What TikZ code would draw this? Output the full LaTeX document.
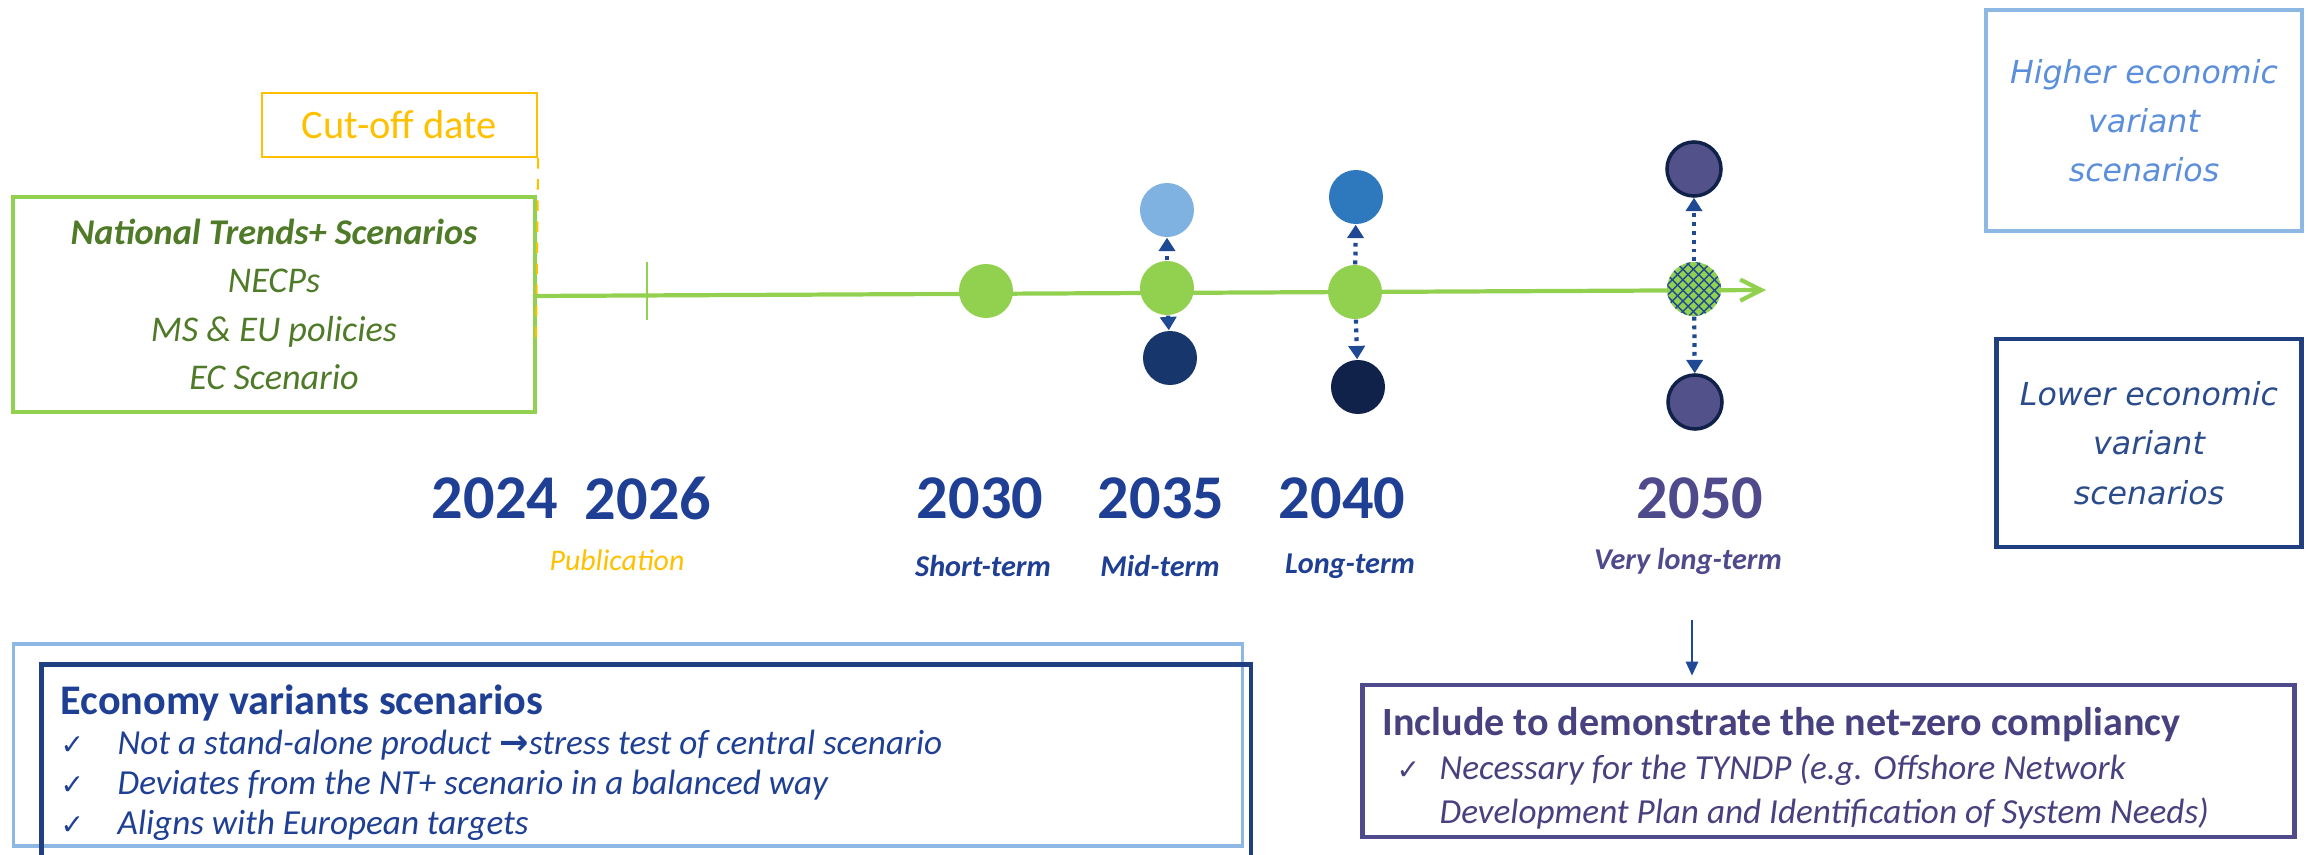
\documentclass[tikz,border=0pt]{standalone}
\usepackage{fontspec}
\setmainfont{Carlito}
\newfontfamily\symfont{DejaVu Sans}
\usetikzlibrary{arrows.meta,patterns,positioning}

\definecolor{tlgreen}{HTML}{92D050}
\definecolor{ntgreen}{HTML}{4F7A28}
\definecolor{cutgold}{HTML}{FFC000}
\definecolor{yearblue}{HTML}{1E3F94}
\definecolor{yearpurple}{HTML}{4F4A8C}
\definecolor{arrowblue}{HTML}{1F4A93}
\definecolor{hiblue}{HTML}{7FB2E0}
\definecolor{hiblueB}{HTML}{2E78BD}
\definecolor{lonavy}{HTML}{17366B}
\definecolor{lonavyB}{HTML}{10214A}
\definecolor{varpurple}{HTML}{52518A}
\definecolor{boxlight}{HTML}{8DB8E3}
\definecolor{hitext}{HTML}{5B8EDB}
\definecolor{boxnavy}{HTML}{203F80}
\definecolor{lotext}{HTML}{2B4C8C}
\definecolor{incpurple}{HTML}{4F4A8C}
\definecolor{inctext}{HTML}{47427F}

\tikzset{
  dot/.style={circle, inner sep=0pt, minimum size=0.54cm},
  year/.style={font=\fontsize{17.7}{20}\selectfont\bfseries, text=yearblue},
  term/.style={font=\fontsize{8.6}{10}\selectfont\bfseries\itshape, text=yearblue},
  legend/.style={align=center, font=\symfont\fontsize{9}{14}\selectfont\itshape},
  vararrow/.style={draw=arrowblue, line width=1.2pt, dash pattern=on 1.1pt off 1.4pt,
    -{Triangle[length=3.8pt,width=4.6pt]}},
}

\begin{document}
\begin{tikzpicture}[x=0.01cm,y=-0.01cm]
\useasboundingbox (0,0) rectangle (2308,855);

% cut-off and national trends
\node[draw=cutgold, line width=0.6pt, minimum width=2.75cm, minimum height=0.64cm,
      text=cutgold, font=\fontsize{11.5}{13}\selectfont] (cut) at (399.5,125) {Cut-off date};
\node[draw=tlgreen, line width=1.1pt, minimum width=5.22cm, minimum height=2.15cm,
      text=ntgreen, align=center, font=\fontsize{10.3}{13.7}\selectfont\itshape] (nt) at (274,304.5)
      {\textbf{National Trends+ Scenarios}\\NECPs\\MS \& EU policies\\EC Scenario};
\coordinate (cutend) at (536,345);
\draw[cutgold, line width=0.6pt, dashed] (cut.south east) -- (cutend);

% timeline
\coordinate (tl0) at (533,296);
\coordinate (tl1) at (1766,290);
\draw[tlgreen, line width=1.2pt, -{Straight Barb[length=6pt,width=6pt]}] (tl0) -- (tl1);
\coordinate (tk0) at (647,262);
\coordinate (tk1) at (647,320);
\draw[tlgreen, line width=0.6pt] (tk0) -- (tk1);

% scenario dots
\node[dot, fill=tlgreen] (c30) at (986,291) {};
\node[dot, fill=tlgreen] (c35) at (1167,288) {};
\node[dot, fill=hiblue] (c35h) at (1167,210) {};
\node[dot, fill=lonavy] (c35l) at (1170,358) {};
\node[dot, fill=tlgreen] (c40) at (1355,292) {};
\node[dot, fill=hiblueB] (c40h) at (1356,197) {};
\node[dot, fill=lonavyB] (c40l) at (1358,387) {};
\node[dot, preaction={fill=tlgreen}, pattern=crosshatch, pattern color=arrowblue] (c50) at (1694,289) {};
\node[dot, fill=varpurple, draw=lonavyB, line width=1pt] (c50h) at (1694,169) {};
\node[dot, fill=varpurple, draw=lonavyB, line width=1pt] (c50l) at (1695,402) {};

\draw[vararrow] (c35) -- (c35h);
\draw[vararrow] (c35) -- (c35l);
\draw[vararrow] (c40) -- (c40h);
\draw[vararrow] (c40) -- (c40l);
\draw[vararrow] (c50) -- (c50h);
\draw[vararrow] (c50) -- (c50l);

% years
\node[year] (y24) at (495,498) {2024};
\node[year] (y26) at (648,498) {2026};
\node[year] (y30) at (980,498) {2030};
\node[year] (y35) at (1161,498) {2035};
\node[year] (y40) at (1342,498) {2040};
\node[year, text=yearpurple] (y50) at (1700,498) {2050};

\node[text=cutgold, font=\fontsize{8.5}{10}\selectfont\itshape] (pub) at (617,560) {Publication};
\node[term] (st) at (983,566) {Short-term};
\node[term] (mt) at (1160,566) {Mid-term};
\node[term] (lt) at (1350,566) {Long-term};
\node[term, text=yearpurple] (vlt) at (1688,561) {Very long-term};

% variant legends
\node[legend, draw=boxlight, line width=1pt, minimum width=3.16cm, minimum height=2.21cm,
      text=hitext] (hi) at (2144,120.5) {Higher economic\\variant\\scenarios};
\node[legend, draw=boxnavy, line width=1.3pt, minimum width=3.05cm, minimum height=2.08cm,
      text=lotext] (lo) at (2149,443) {Lower economic\\variant\\scenarios};

% economy variants
\node[draw=boxlight, line width=1pt, minimum width=12.28cm, minimum height=2.02cm] (econl) at (628,745) {};
\node[draw=boxnavy, line width=1.3pt, anchor=north west, minimum width=12.09cm, minimum height=2.6cm] (econ) at (39,662) {};
\node[anchor=north west, inner sep=0pt, align=left, text=yearblue,
      font=\fontsize{10}{11.4}\selectfont\itshape] (econtxt) at (60,684)
      {{\fontsize{12}{13}\selectfont\bfseries\upshape Economy variants scenarios}\\[0pt]
       \makebox[0.57cm][l]{\symfont\upshape\fontsize{8}{10}\selectfont ✓}Not a stand-alone product {\symfont\upshape\bfseries →}stress test of central scenario\\
       \makebox[0.57cm][l]{\symfont\upshape\fontsize{8}{10}\selectfont ✓}Deviates from the NT+ scenario in a balanced way\\
       \makebox[0.57cm][l]{\symfont\upshape\fontsize{8}{10}\selectfont ✓}Aligns with European targets};

% net-zero
\node[draw=incpurple, line width=1.3pt, minimum width=9.31cm, minimum height=1.52cm] (inc) at (1828.5,761) {};
\node[anchor=north west, inner sep=0pt, align=left, text=inctext,
      font=\fontsize{10}{12.5}\selectfont\itshape] (inctxt) at (1382,707)
      {{\fontsize{11.4}{12}\selectfont\bfseries\upshape Include to demonstrate the net-zero compliancy}\\
       \hspace*{0.14cm}\makebox[0.43cm][l]{\symfont\upshape\fontsize{8}{10}\selectfont ✓}Necessary for the TYNDP (e.g. Offshore Network\\
       \hspace*{0.57cm}Development Plan and Identification of System Needs)};
\coordinate (incin) at (1692,620);
\draw[arrowblue, line width=0.6pt, -{Triangle[length=4pt,width=3.5pt]}, shorten >=0.07cm] (incin) -- (incin |- inc.north);
\end{tikzpicture}
\end{document}
